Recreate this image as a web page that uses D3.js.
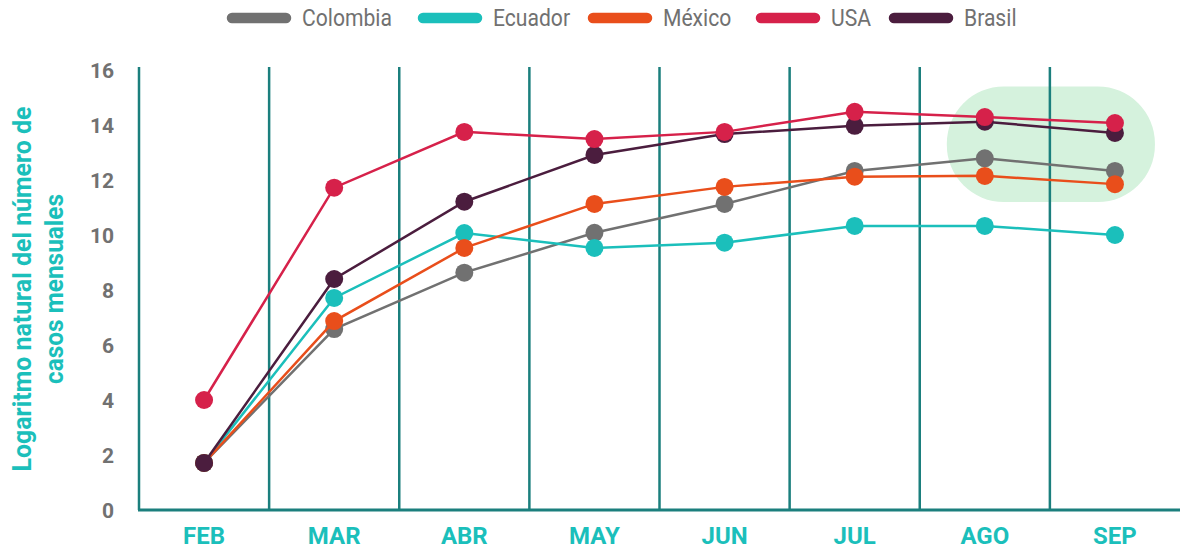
<!DOCTYPE html>
<html>
<head>
<meta charset="utf-8">
<script src="https://cdn.jsdelivr.net/npm/d3@7"></script>
<style>
  body { margin: 0; background: #fff; }
  svg { display: block; font-family: Roboto, "Open Sans", sans-serif; }
</style>
</head>
<body>
<div id="container"></div>
<script>
const width = 1180;
const height = 550;

// months on the x axis
const months = ['FEB', 'MAR', 'ABR', 'MAY', 'JUN', 'JUL', 'AGO', 'SEP'];
const yTicks = [0, 2, 4, 6, 8, 10, 12, 14, 16];

// series (ln of monthly cases)
const colombia = [1.71, 6.58, 8.63, 10.08, 11.13, 12.33, 12.79, 12.33];
const ecuador  = [1.71, 7.71, 10.07, 9.53, 9.72, 10.33, 10.33, 10.0];
const mexico   = [1.71, 6.87, 9.53, 11.13, 11.75, 12.12, 12.15, 11.85];
const usa      = [4.0, 11.72, 13.75, 13.49, 13.75, 14.48, 14.29, 14.07];
const brasil   = [1.71, 8.4, 11.21, 12.91, 13.67, 13.97, 14.12, 13.71];

const legendNames = ['Colombia', 'Ecuador', 'México', 'USA', 'Brasil'];
const colors = ['#717171', '#1bbfbb', '#e94e1b', '#d6214a', '#4b1d3e'];

// highlighted region (last two months)
const highlightMonths = ['AGO', 'SEP'];
const highlightRange = [11.2, 15.4];

const series = [
  { name: 'Colombia', values: colombia, color: colors[0] },
  { name: 'Ecuador', values: ecuador, color: colors[1] },
  { name: 'México', values: mexico, color: colors[2] },
  { name: 'Brasil', values: brasil, color: colors[4] },
  { name: 'USA', values: usa, color: colors[3] }
];

const teal = '#1b7f7d';
const margin = { top: 67, left: 139, bottom: 510, right: 1180 };

const svg = d3.select('#container')
  .append('svg')
  .attr('width', width)
  .attr('height', height);

const x = d3.scaleBand()
  .domain(months)
  .range([margin.left, margin.right])
  .paddingInner(0)
  .paddingOuter(0);

const y = d3.scaleLinear()
  .domain([0, 16])
  .range([margin.bottom, 70]);

// === highlight box ===
const hx0 = x(highlightMonths[0]) + x.bandwidth() / 2 - 38;
const hx1 = x(highlightMonths[1]) + x.bandwidth() / 2 + 40;
svg.append('rect')
  .attr('x', hx0)
  .attr('y', y(highlightRange[1]))
  .attr('width', hx1 - hx0)
  .attr('height', y(highlightRange[0]) - y(highlightRange[1]))
  .attr('rx', 57)
  .attr('fill', '#d5f2dd');

// === vertical separators ===
svg.append('g')
  .selectAll('line')
  .data(months)
  .join('line')
  .attr('x1', d => x(d))
  .attr('x2', d => x(d))
  .attr('y1', margin.top)
  .attr('y2', margin.bottom)
  .attr('stroke', teal)
  .attr('stroke-width', 2.5);

// bottom axis line
svg.append('line')
  .attr('x1', margin.left - 1)
  .attr('x2', width)
  .attr('y1', margin.bottom)
  .attr('y2', margin.bottom)
  .attr('stroke', teal)
  .attr('stroke-width', 3);

// y tick labels
svg.append('g')
  .selectAll('text')
  .data(yTicks)
  .join('text')
  .attr('x', 114)
  .attr('y', d => y(d))
  .attr('dy', '0.36em')
  .attr('text-anchor', 'end')
  .attr('fill', '#717171')
  .style('font-size', '21px')
  .style('font-weight', 'bold')
  .text(d => d);

// x labels
svg.append('g')
  .selectAll('text')
  .data(months)
  .join('text')
  .attr('x', d => x(d) + x.bandwidth() / 2)
  .attr('y', 544)
  .attr('text-anchor', 'middle')
  .attr('fill', '#1bbfbb')
  .style('font-size', '24px')
  .style('font-weight', 'bold')
  .text(d => d);

// y axis title
const title = svg.append('g')
  .attr('transform', 'translate(38, 289) rotate(-90)');
title.append('text')
  .attr('x', 0)
  .attr('y', -16)
  .attr('dy', '0.35em')
  .attr('text-anchor', 'middle')
  .attr('fill', '#1bbfbb')
  .attr('textLength', 365)
  .attr('lengthAdjust', 'spacingAndGlyphs')
  .style('font-size', '25px')
  .style('font-weight', 'bold')
  .text('Logaritmo natural del número de');
title.append('text')
  .attr('x', 0)
  .attr('y', 16)
  .attr('dy', '0.35em')
  .attr('text-anchor', 'middle')
  .attr('fill', '#1bbfbb')
  .attr('textLength', 190)
  .attr('lengthAdjust', 'spacingAndGlyphs')
  .style('font-size', '25px')
  .style('font-weight', 'bold')
  .text('casos mensuales');

// === lines and dots ===
const line = d3.line()
  .x((d, i) => x(months[i]) + x.bandwidth() / 2)
  .y(d => y(d));

const seriesG = svg.append('g')
  .selectAll('g.series')
  .data(series)
  .join('g')
  .attr('class', 'series');

seriesG.append('path')
  .attr('d', d => line(d.values))
  .attr('fill', 'none')
  .attr('stroke', d => d.color)
  .attr('stroke-width', 2.5);

seriesG.selectAll('circle')
  .data(d => d.values.map((v, i) => ({ v, i, color: d.color })))
  .join('circle')
  .attr('cx', d => x(months[d.i]) + x.bandwidth() / 2)
  .attr('cy', d => y(d.v))
  .attr('r', 9)
  .attr('fill', d => d.color);

// === legend ===
const legendX = [227, 418, 588, 756, 889];
const legend = svg.append('g')
  .selectAll('g')
  .data(legendNames)
  .join('g')
  .attr('transform', (d, i) => `translate(${legendX[i]}, 18)`);

legend.append('line')
  .attr('x1', 5)
  .attr('x2', 59)
  .attr('y1', 0)
  .attr('y2', 0)
  .attr('stroke', (d, i) => colors[i])
  .attr('stroke-width', 10.5)
  .attr('stroke-linecap', 'round');

legend.append('text')
  .attr('transform', 'translate(75, 8) scale(0.88, 1)')
  .attr('fill', '#717171')
  .style('font-size', '24px')
  .text(d => d);
</script>
</body>
</html>
